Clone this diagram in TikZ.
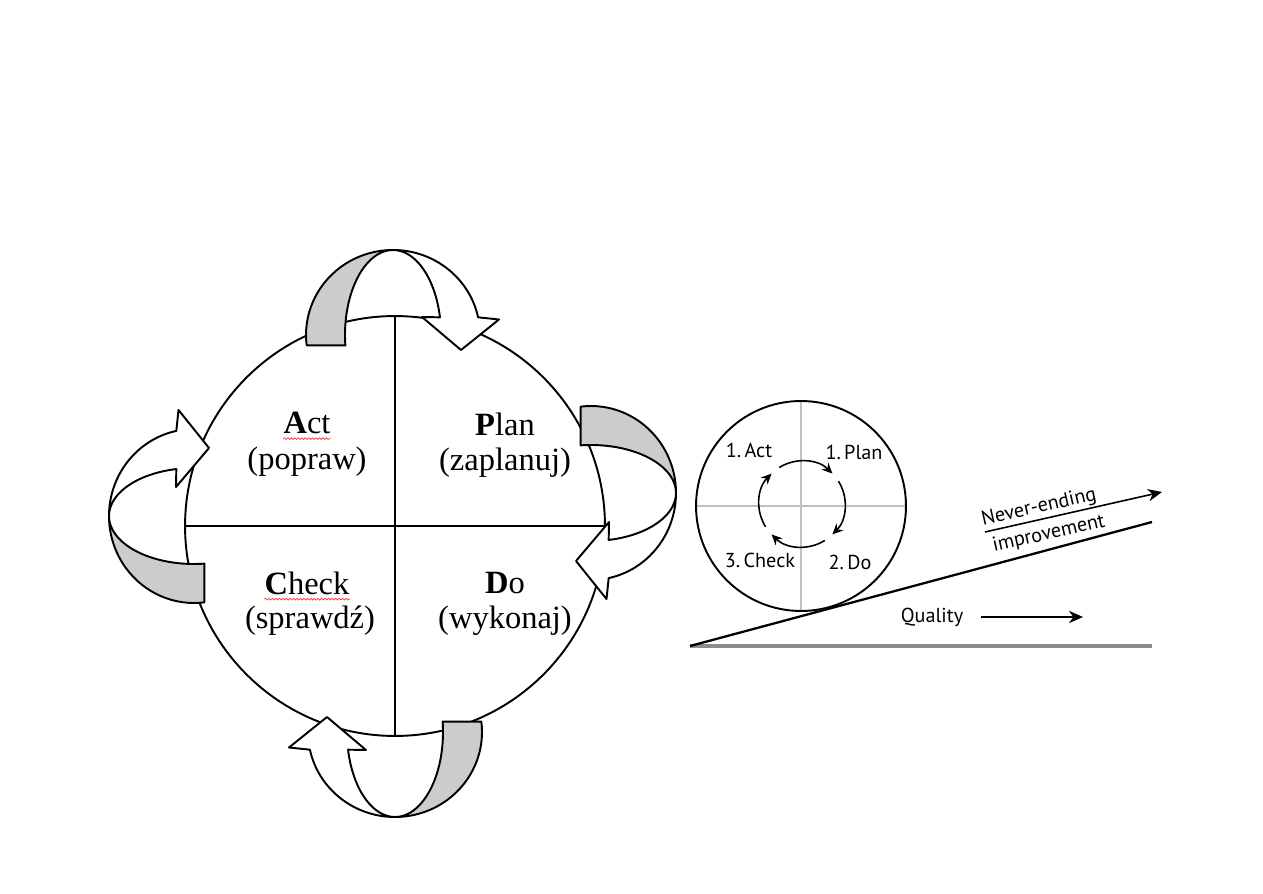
\documentclass[tikz,border=0pt]{standalone}
\usepackage{fontspec}
\setmainfont{Liberation Serif}
\newfontfamily\sansfont{PT Sans}
\usetikzlibrary{arrows.meta, positioning, decorations.pathmorphing}
\definecolor{bandgray}{RGB}{204,204,204}
\definecolor{crossgray}{RGB}{192,192,192}
\definecolor{groundgray}{RGB}{140,140,140}

\begin{document}
\begin{tikzpicture}[x=0.02cm, y=0.02cm,
    % Styles for the wheel, the ribbons and the labels
    ribbon line/.style={line width=1.1pt, line join=round},
    divider/.style={line width=1.1pt},
    quad title/.style={font=\fontsize{18.5}{22}\selectfont, inner sep=0pt},
    quad sub/.style={font=\fontsize{18.5}{22}\selectfont, inner sep=0pt},
    spell/.style={red!80, line width=0.4pt, decorate,
        decoration={snake, segment length=2pt, amplitude=0.5pt}},
    small/.style={font=\sansfont\fontsize{11.5}{13}\selectfont, inner sep=0.5pt},
    crossline/.style={crossgray, line width=0.9pt},
    looparrow/.style={-{Stealth[length=6pt, width=5.5pt]}, line width=0.9pt},
    connector/.style={-{Stealth[length=8pt, width=7pt, inset=2.5pt]}, line width=0.9pt},
    ribbon/.pic={
        % back half of the band (grey)
        \filldraw[ribbon line, fill=bandgray] (187:87 and 85)
            arc[start angle=187, end angle=90, x radius=87, y radius=85]
            arc[start angle=90, end angle=187, x radius=48, y radius=85] -- cycle;
        % front half with the head
        \filldraw[ribbon line, fill=white] (90:87 and 85)
            arc[start angle=90, end angle=12, x radius=87, y radius=85]
            -- (106,15.5) -- (68,-15) -- (29,18) -- (12:48 and 85)
            arc[start angle=12, end angle=90, x radius=48, y radius=85] -- cycle;
    }
]
    \path[use as bounding box, fill=white] (0,0) rectangle (1263,893);

    % --- PDCA WHEEL ---
    \node[circle, draw, line width=1.1pt, minimum size=8.4cm, inner sep=0pt, outer sep=0pt] (wheel) at (395,367) {};
    \draw[divider] (wheel.west) -- (wheel.east);
    \draw[divider] (wheel.north) -- (wheel.south);

    % Ribbon arrows round the wheel
    \pic at (393,558) {ribbon};
    \pic[rotate=-90] at (591,400) {ribbon};
    \pic[rotate=180] at (395,161) {ribbon};
    \pic[rotate=90] at (194,377) {ribbon};

    % Quadrant labels
    \node[quad title] (act) at (307,470) {\textbf{A}ct};
    \node[quad sub] (popraw) at (307,431) {(popraw)};
    \node[quad title] (plan) at (505,469) {\textbf{P}lan};
    \node[quad sub] (zaplanuj) at (505,430) {(zaplanuj)};
    \node[quad title] (check) at (307,310) {\textbf{C}heck};
    \node[quad sub] (sprawdz) at (310,272) {(sprawdź)};
    \node[quad title] (do) at (505,310) {\textbf{D}o};
    \node[quad sub] (wykonaj) at (505,272) {(wykonaj)};

    \draw[spell] ([yshift=-2.5pt]act.south west) -- ([yshift=-2.5pt]act.south east);
    \draw[spell] ([yshift=-2.5pt]check.south west) -- ([yshift=-2.5pt]check.south east);

    % --- ROLLING WHEEL ON THE SLOPE ---
    \coordinate (rollc) at (801,387);
    \draw[crossline] ([xshift=-2.1cm]rollc) -- ([xshift=2.1cm]rollc);
    \draw[crossline] ([yshift=-2.1cm]rollc) -- ([yshift=2.1cm]rollc);
    \node[circle, draw, line width=1.1pt, minimum size=4.2cm, inner sep=0pt, outer sep=0pt] (roller) at (rollc) {};

    \node[small] (ract) at (749,443) {1.\,Act};
    \node[small] (rplan) at (854,441) {1.\,Plan};
    \node[small] (rcheck) at (760,333) {3.\,Check};
    \node[small] (rdo) at (850,331) {2.\,Do};

    % small cycle
    \coordinate (loop) at (802,389);
    \foreach \a in {122,32,-58,-148}
        \draw[looparrow] ([shift={(\a:43)}]loop) arc[start angle=\a, end angle=\a-77, radius=43];

    % Slope and ground
    \coordinate (foot) at (690,247);
    \coordinate (crest) at (1152,371);
    \coordinate (groundend) at (1152,247);
    \draw[groundgray, line width=2pt] (foot) -- (groundend);
    \draw[line width=1.3pt] (foot) -- (crest);

    % Improvement arrow
    \coordinate (gainstart) at (985,361);
    \coordinate (gaintip) at (1162,401);
    \draw[connector] (gainstart) -- (gaintip)
        node[pos=0.32, above=0.5pt, sloped, small] {Never-ending}
        node[pos=0.34, below=3pt, sloped, small] {improvement};

    % Quality arrow
    \node[small] (quality) at (932,276) {Quality};
    \coordinate (qend) at (1083,276);
    \draw[connector, shorten <=9.5pt] (quality) -- (qend);

\end{tikzpicture}
\end{document}
